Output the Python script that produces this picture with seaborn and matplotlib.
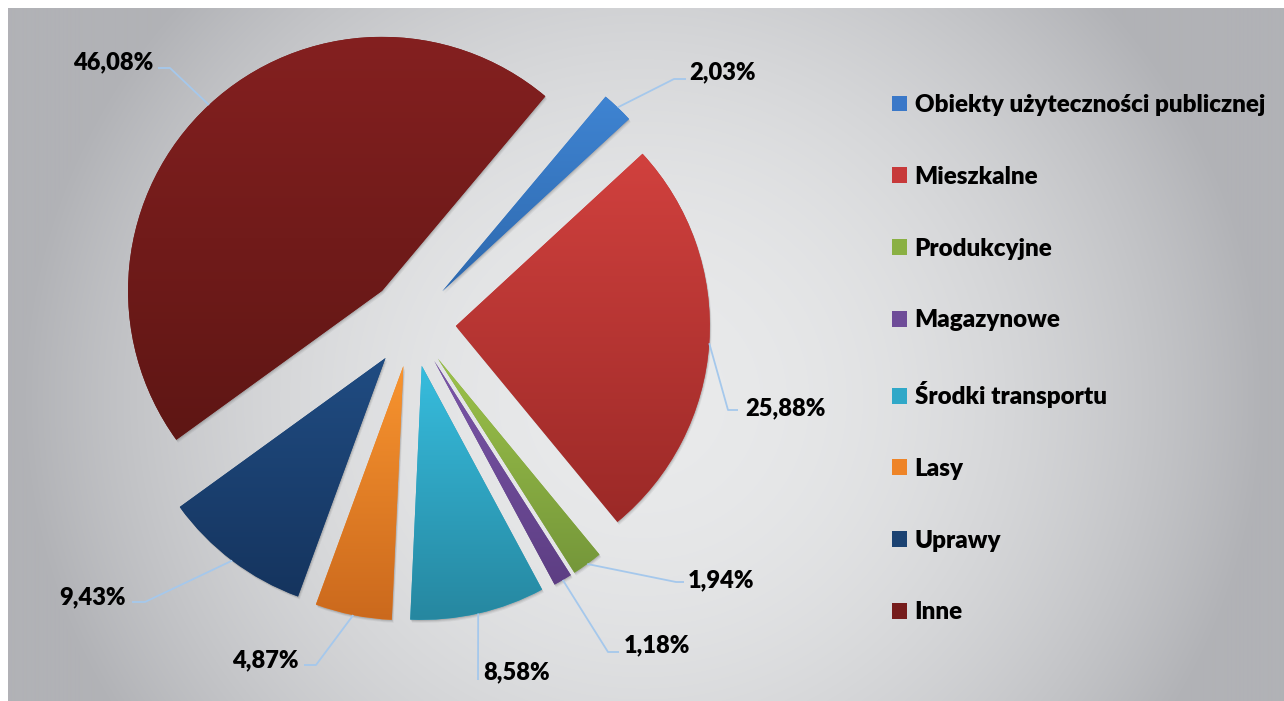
import numpy as np
import seaborn as sns
import matplotlib
matplotlib.use("Agg")
import matplotlib.pyplot as plt
from matplotlib.patches import Patch, Wedge
from matplotlib.colors import to_rgb

# ---------------- data ----------------
categories = ["Obiekty użyteczności publicznej", "Mieszkalne", "Produkcyjne",
              "Magazynowe", "Środki transportu", "Lasy", "Uprawy", "Inne"]
shares = [2.03, 25.88, 1.94, 1.18, 8.58, 4.87, 9.43, 46.08]
value_labels = ["2,03%", "25,88%", "1,94%", "1,18%", "8,58%", "4,87%", "9,43%", "46,08%"]

# ---------------- style ----------------
top_colors = ["#3F84D2", "#D1413E", "#9CC24A", "#7B56A9", "#37BDDE", "#F8942F", "#204C82", "#842020"]
bot_colors = ["#2E69AE", "#9B2927", "#75973A", "#5D3E83", "#2687A0", "#CB691D", "#15345E", "#5E1614"]
mid_colors = ["#3A78C8", "#C7393A", "#8AB043", "#6E4C98", "#30A8C8", "#EE8427", "#1B4272", "#761C1C"]
leader_color = "#A5C8EC"

sns.set_theme(style="white")
plt.rcParams['font.family'] = ['Lato', 'DejaVu Sans']
plt.rcParams['text.color'] = 'black'

W, H = 1284, 701
fig = plt.figure(figsize=(W / 100, H / 100), dpi=100)
fig.patch.set_facecolor("white")

# background radial gradient (chart area)
bg = fig.add_axes([8 / W, -0.01, 1 - 8 / W + 0.01, 1 - 8 / H + 0.01])
yy, xx = np.mgrid[8:H + 8, 8:W + 8]
t = np.clip(((xx - 640) / 620.0) ** 2 + ((yy - 400) / 600.0) ** 2, 0, 1)
light = np.array([233, 234, 235]) / 255.0
dark = np.array([177, 178, 182]) / 255.0
bgimg = light[None, None, :] * (1 - t[..., None]) + dark[None, None, :] * t[..., None]
bg.imshow(bgimg, aspect="auto", extent=(0, 1, 0, 1), origin="upper", interpolation="bilinear")
bg.set_axis_off()

# pie axes
CX, CY, R = 412, 323, 254
half = 1.6
size = 2 * half * R
ax = fig.add_axes([(CX - half * R) / W, (H - CY - half * R) / H, size / W, size / H])
ax.patch.set_alpha(0)


def px2data(px, py):
    return ((px - CX) / R, (CY - py) / R)


wedges, _ = ax.pie(shares, explode=[0.173] * len(shares), startangle=50, counterclock=False,
                   colors=mid_colors, radius=1, wedgeprops=dict(linewidth=0))

for w, ct, cb in zip(wedges, top_colors, bot_colors):
    # soft shadow
    for k, a in [(1.0, 0.10), (2.0, 0.07), (3.0, 0.05)]:
        sh = Wedge((w.center[0] + k * 0.6 / R, w.center[1] - k * 1.0 / R), w.r, w.theta1, w.theta2,
                   facecolor="black", alpha=a, linewidth=0, zorder=w.get_zorder() - 0.5)
        ax.add_patch(sh)
    ext = w.get_path().get_extents()
    g = np.linspace(0, 1, 256)[:, None]
    col = (1 - g) * np.array(to_rgb(ct)) + g * np.array(to_rgb(cb))
    img = np.repeat(col[:, None, :], 2, axis=1)
    im = ax.imshow(img, extent=(ext.x0, ext.x1, ext.y0, ext.y1), origin="upper", aspect="auto",
                   zorder=w.get_zorder() + 0.1, interpolation="bilinear")
    im.set_clip_path(w)

# leader lines & labels (layout in pixel coordinates)
label_pos = [(722, 72), (785, 408), (721, 580), (657, 645), (517, 672), (265, 660), (93, 597), (113, 62)]
elbows = [[(674, 79), (686, 79)], [(728, 410), (738, 410)], [(676, 582), (684, 582)],
          [(608, 652), (619, 652)], [(478, 680)], [(316, 665), (304, 665)],
          [(145, 602), (132, 602)], [(170, 68), (158, 68)]]

for w, lab, lp, el in zip(wedges, value_labels, label_pos, elbows):
    th = np.deg2rad((w.theta1 + w.theta2) / 2)
    x0 = w.center[0] + w.r * np.cos(th)
    y0 = w.center[1] + w.r * np.sin(th)
    pts = [(x0, y0)] + [px2data(*p) for p in el]
    xs, ys = zip(*pts)
    ax.plot(xs, ys, color=leader_color, lw=1.3, solid_capstyle="butt", zorder=10, clip_on=False)
    tx, ty = px2data(*lp)
    ax.text(tx, ty, lab, ha="center", va="center", fontsize=17, fontweight="heavy",
            color="black", clip_on=False, zorder=11)

ax.set_xlim(-half, half)
ax.set_ylim(-half, half)
ax.set_aspect("auto")
ax.set_axis_off()

handles = [Patch(facecolor=c, edgecolor="none") for c in mid_colors]
fig.legend(handles, categories, loc="upper left", bbox_to_anchor=(892 / W, 1 - 94 / H),
           frameon=False, prop={"size": 17.4, "weight": "heavy"}, labelcolor="black",
           handlelength=0.64, handleheight=0.64, handletextpad=0.3, labelspacing=2.06,
           borderaxespad=0, borderpad=0)

fig.savefig("out.png", dpi=100)
